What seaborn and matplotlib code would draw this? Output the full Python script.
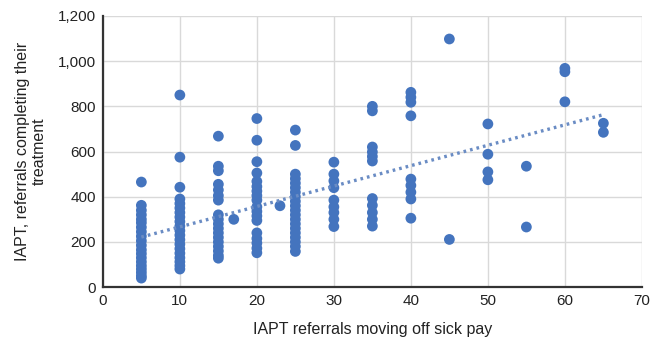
import numpy as np
import pandas as pd
import matplotlib
matplotlib.use("Agg")
import matplotlib.pyplot as plt
import seaborn as sns
from matplotlib.ticker import FuncFormatter

# IAPT referrals moving off sick pay (x) and referrals completing treatment (y)
at_5 = [465, 362, 340, 320, 300, 285, 265, 245, 225, 205, 185, 165, 148, 130, 112, 95, 80, 65, 50, 40]
at_10 = [850, 575, 442, 390, 370, 350, 330, 310, 290, 270, 250, 230, 210, 190, 170, 150, 130, 112, 95, 80]
at_15 = [668, 535, 515, 455, 430, 405, 385, 320, 300, 280, 260, 240, 220, 200, 180, 160, 140, 128]
at_17 = [300]
at_20 = [746, 650, 555, 505, 468, 445, 425, 405, 385, 355, 335, 315, 295, 240, 215, 195, 172, 152]
at_23 = [360]
at_25 = [695, 627, 500, 480, 460, 440, 420, 400, 380, 360, 340, 320, 300, 280, 260, 240, 220, 200, 180, 158]
at_30 = [553, 500, 470, 440, 385, 355, 330, 300, 268]
at_35 = [800, 780, 620, 598, 578, 558, 392, 362, 330, 300, 270]
at_40 = [862, 840, 818, 758, 478, 450, 420, 390, 305]
at_45 = [1098, 211]
at_50 = [722, 588, 510, 475]
at_55 = [535, 266]
at_60 = [968, 953, 820]
at_65 = [725, 685]

sick_pay_levels = [5, 10, 15, 17, 20, 23, 25, 30, 35, 40, 45, 50, 55, 60, 65]
completing_by_level = [at_5, at_10, at_15, at_17, at_20, at_23, at_25, at_30,
                       at_35, at_40, at_45, at_50, at_55, at_60, at_65]

x_ticks = [0, 10, 20, 30, 40, 50, 60, 70]
y_ticks = [0, 200, 400, 600, 800, 1000, 1200]

rows = [(lvl, v) for lvl, vals in zip(sick_pay_levels, completing_by_level) for v in vals]
df = pd.DataFrame(rows, columns=["off_sick_pay", "completing"])

sns.set_theme(style="white")
plt.rcParams["font.family"] = ["Liberation Sans Narrow", "Liberation Sans", "DejaVu Sans"]

fig = plt.figure(figsize=(6.51, 3.39), dpi=100)
ax = fig.add_axes([0.158, 0.153, 0.828, 0.800])

point_color = "#4474BE"
sns.scatterplot(data=df, x="off_sick_pay", y="completing", ax=ax,
                color=point_color, s=60, edgecolor="none", zorder=3)
sns.regplot(data=df, x="off_sick_pay", y="completing", ax=ax, scatter=False,
            ci=None, truncate=True,
            line_kws=dict(color="#6A8CC4", linewidth=2.4,
                          linestyle=(0, (0.8, 1.2)), zorder=4))

ax.set_xlim(0, 70)
ax.set_ylim(0, 1200)
ax.set_xticks(x_ticks)
ax.set_yticks(y_ticks)
ax.yaxis.set_major_formatter(FuncFormatter(lambda v, p: f"{int(v):,}"))
ax.grid(True, color="#D9D9D9", linewidth=1.0)
ax.set_axisbelow(True)

for side in ("top", "right"):
    ax.spines[side].set_visible(False)
for side in ("left", "bottom"):
    ax.spines[side].set_color("#333333")
    ax.spines[side].set_linewidth(1.6)

ax.tick_params(axis="both", labelsize=11, colors="#222222", length=0, pad=5)
ax.set_xlabel("IAPT referrals moving off sick pay", fontsize=11.5, color="#222222", labelpad=10)
ax.set_ylabel("IAPT, referrals completing their\ntreatment", fontsize=11.5,
              color="#222222", labelpad=8, linespacing=1.1)

fig.savefig("out.png", dpi=100)
